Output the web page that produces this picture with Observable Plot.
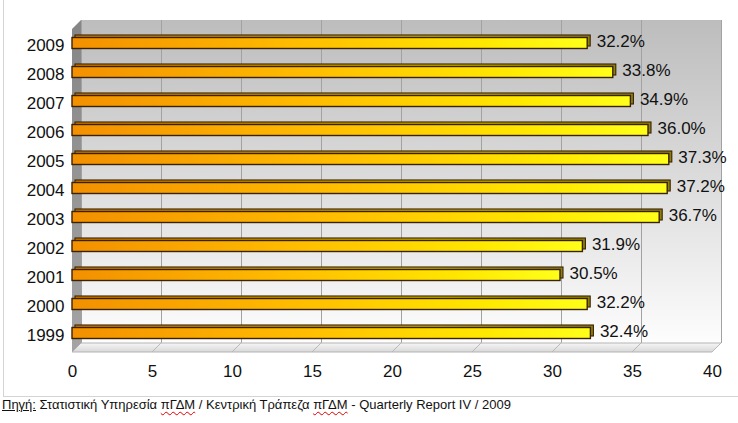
<!DOCTYPE html>
<html><head><meta charset="utf-8">
<script src="https://cdn.jsdelivr.net/npm/d3@7"></script>
<script src="https://cdn.jsdelivr.net/npm/@observablehq/plot@0.6"></script>
<style>
body{margin:0;background:#fff;font-family:"Liberation Sans",Arial,sans-serif;}
#wrap{position:relative;width:738px;height:423px;overflow:hidden;}
#chart{position:absolute;left:0;top:0;}
#border{position:absolute;left:3px;top:-1px;width:740px;height:397px;border-left:1px solid #d4d4d4;border-bottom:1px solid #d4d4d4;}
#caption{position:absolute;left:2px;top:398px;font-size:13px;line-height:14px;color:#111;white-space:nowrap;}
#caption .u{text-decoration:underline;}
#caption .sp{text-decoration:underline wavy #e00000;text-decoration-thickness:1px;text-underline-offset:2px;}
</style></head>
<body>
<div id="wrap">
  <div id="border"></div>
  <div id="chart"></div>
  <div id="caption"><span class="u">Πηγή:</span> Στατιστική Υπηρεσία <span class="sp">πΓΔΜ</span> / Κεντρική Τράπεζα <span class="sp">πΓΔΜ</span> - Quarterly Report IV / 2009</div>
</div>
<script>
const years = ["2009","2008","2007","2006","2005","2004","2003","2002","2001","2000","1999"];
const shares = [32.2, 33.8, 34.9, 36.0, 37.3, 37.2, 36.7, 31.9, 30.5, 32.2, 32.4];
const shareLabels = ["32.2%","33.8%","34.9%","36.0%","37.3%","37.2%","36.7%","31.9%","30.5%","32.2%","32.4%"];
const xTicks = [0, 5, 10, 15, 20, 25, 30, 35, 40];

const data = years.map((year, i) => ({year, value: shares[i], label: shareLabels[i]}));
const depth = 9;

const decorations = (index, scales, values, dims) => {
  const x = scales.x;
  const xl = x(0), xr = x(40);
  const top = dims.marginTop, bot = dims.height - dims.marginBottom;
  const g = d3.create("svg:g");
  g.append("path")
    .attr("d", `M${xl},${bot}L${xl+depth},${bot-depth}L${xr+depth},${bot-depth}L${xr},${bot}Z`)
    .attr("fill", "url(#floorGrad)").attr("stroke", "#b4b4b4").attr("stroke-width", 1);
  for (const t of xTicks) {
    g.append("line")
      .attr("x1", x(t)).attr("y1", bot).attr("x2", x(t) + depth).attr("y2", bot - depth)
      .attr("stroke", "#b8b8b8").attr("stroke-width", 1);
  }
  g.append("path")
    .attr("d", `M${xl},${top}L${xl+depth},${top-depth}L${xl+depth},${bot-depth}L${xl},${bot}Z`)
    .attr("fill", "url(#sideGrad)");
  return g.node();
};

const chart = Plot.plot({
  width: 738,
  height: 395,
  marginLeft: 72,
  marginRight: 26,
  marginTop: 29,
  marginBottom: 43,
  style: {fontFamily: "'Liberation Sans', Arial, sans-serif", fontSize: "17px", color: "#111", background: "transparent", overflow: "visible"},
  x: {domain: [0, 40], ticks: xTicks, tickSize: 0, tickPadding: 12, label: null},
  y: {domain: years, paddingInner: 0.62, paddingOuter: 0.23, tickSize: 0, tickPadding: 8, label: null},
  marks: [
    Plot.rect([0], {x1: 0, x2: 40, fill: "url(#wallGrad)", dx: depth, dy: -depth}),
    Plot.ruleX(xTicks, {stroke: "#a2a2a2", strokeWidth: 1, dx: depth, dy: -depth}),
    decorations,
    Plot.barX(data, {x: "value", y: "year", fill: "url(#barBack)", stroke: "#3a2200", strokeWidth: 1.1, dx: 3, dy: -5}),
    Plot.barX(data, {x: "value", y: "year", fill: "url(#barFront)", stroke: "#3a2200", strokeWidth: 1.4, dy: -2.5}),
    Plot.text(data, {x: "value", y: "year", text: "label", textAnchor: "start", dx: 9, dy: -4, fontSize: 17, fill: "#111"})
  ]
});

const svg = d3.select(chart);
const defs = svg.insert("defs", ":first-child");
function grad(id, x2, y2, stops) {
  const lg = defs.append("linearGradient").attr("id", id)
    .attr("x1", 0).attr("y1", 0).attr("x2", x2).attr("y2", y2);
  for (const [o, c] of stops) lg.append("stop").attr("offset", o).attr("stop-color", c);
}
grad("wallGrad", 0, 1, [[0, "#bdbdbd"], [0.5, "#dcdcdc"], [1, "#fdfdfd"]]);
grad("sideGrad", 0, 1, [[0, "#868686"], [1, "#a4a4a4"]]);
grad("floorGrad", 0, 1, [[0, "#f6f6f6"], [1, "#d8d8d8"]]);
grad("barFront", 1, 0, [[0, "#f39000"], [0.45, "#ffbe00"], [0.8, "#ffe800"], [1, "#ffff1a"]]);
grad("barBack", 1, 0, [[0, "#d07800"], [0.7, "#c8b000"], [1, "#8e7e12"]]);

document.getElementById("chart").appendChild(chart);
</script>
</body></html>
